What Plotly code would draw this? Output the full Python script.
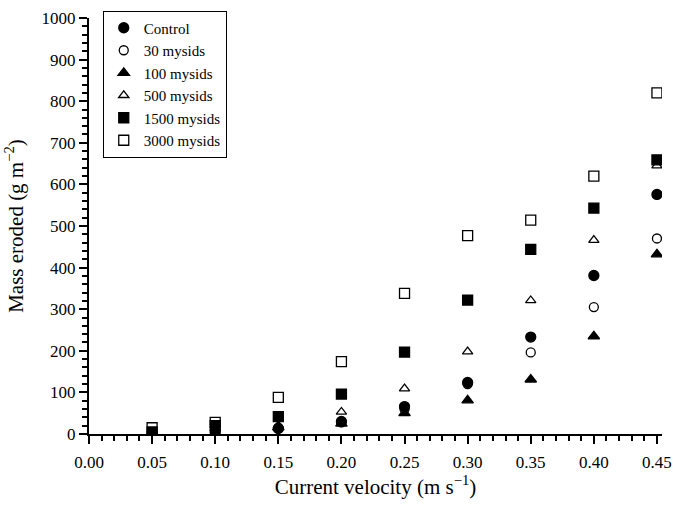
import plotly.graph_objects as go

velocity = [0.05, 0.10, 0.15, 0.20, 0.25, 0.30, 0.35, 0.40, 0.45]
control = [2, 5, 13, 30, 66, 124, 233, 381, 576]
mysids_30 = [1, 8, 15, 28, 60, 120, 196, 305, 470]
mysids_100 = [0, 3, 16, 25, 50, 81, 131, 235, 432]
mysids_500 = [3, 14, 20, 53, 109, 198, 321, 466, 645]
mysids_1500 = [5, 20, 42, 96, 197, 322, 444, 543, 659]
mysids_3000 = [15, 28, 88, 174, 338, 477, 514, 620, 820]

series = [
    ("Control", control, "circle", 10),
    ("30 mysids", mysids_30, "circle-open", 9),
    ("100 mysids", mysids_100, "triangle-up", 10),
    ("500 mysids", mysids_500, "triangle-up-open", 9),
    ("1500 mysids", mysids_1500, "square", 10),
    ("3000 mysids", mysids_3000, "square-open", 10),
]

fig = go.Figure()
for name, vals, sym, sz in series:
    fig.add_trace(go.Scatter(
        x=velocity, y=vals, mode="markers", name=name,
        marker=dict(symbol=sym, size=sz, color="black",
                    line=dict(color="black", width=1.3)),
    ))

font_family = "Liberation Serif"
fig.update_layout(
    width=673, height=510,
    margin=dict(l=89, r=11, t=15, b=76),
    paper_bgcolor="white", plot_bgcolor="white",
    font=dict(family=font_family, size=17, color="black"),
    showlegend=True,
    legend=dict(
        x=0.024, y=1.018, xanchor="left", yanchor="top",
        bordercolor="black", borderwidth=1, bgcolor="white",
        font=dict(family=font_family, size=15, color="black"),
        itemwidth=30, tracegroupgap=0,
    ),
    xaxis=dict(
        range=[0, 0.454], tickmode="array",
        tickvals=[0, 0.05, 0.10, 0.15, 0.20, 0.25, 0.30, 0.35, 0.40, 0.45],
        ticktext=["0.00", "0.05", "0.10", "0.15", "0.20", "0.25", "0.30", "0.35", "0.40", "0.45"],
        ticks="outside", ticklen=8, tickwidth=2, tickcolor="black",
        minor=dict(dtick=0.01, tick0=0, ticks="outside", ticklen=5, tickwidth=1.5, tickcolor="black"),
        showline=True, linecolor="black", linewidth=2, showgrid=False, zeroline=False,
        automargin=False, ticklabelstandoff=4,
        title=dict(text="Current velocity (m s<sup>\u22121</sup>)", font=dict(size=21), standoff=8),
        tickfont=dict(size=17),
    ),
    yaxis=dict(
        range=[0, 1000], tickmode="linear", tick0=0, dtick=100,
        ticks="outside", ticklen=8, tickwidth=2, tickcolor="black",
        minor=dict(dtick=20, tick0=0, ticks="outside", ticklen=5, tickwidth=1.5, tickcolor="black"),
        showline=True, linecolor="black", linewidth=2, showgrid=False, zeroline=False,
        automargin=False,
        title=dict(text="Mass eroded (g m<sup>\u22122</sup>)", font=dict(size=21), standoff=12),
        tickfont=dict(size=17),
    ),
)

fig.write_html("out.html", config={"displayModeBar": False},
               post_script="document.body.style.margin='0';document.body.style.overflow='hidden';")
